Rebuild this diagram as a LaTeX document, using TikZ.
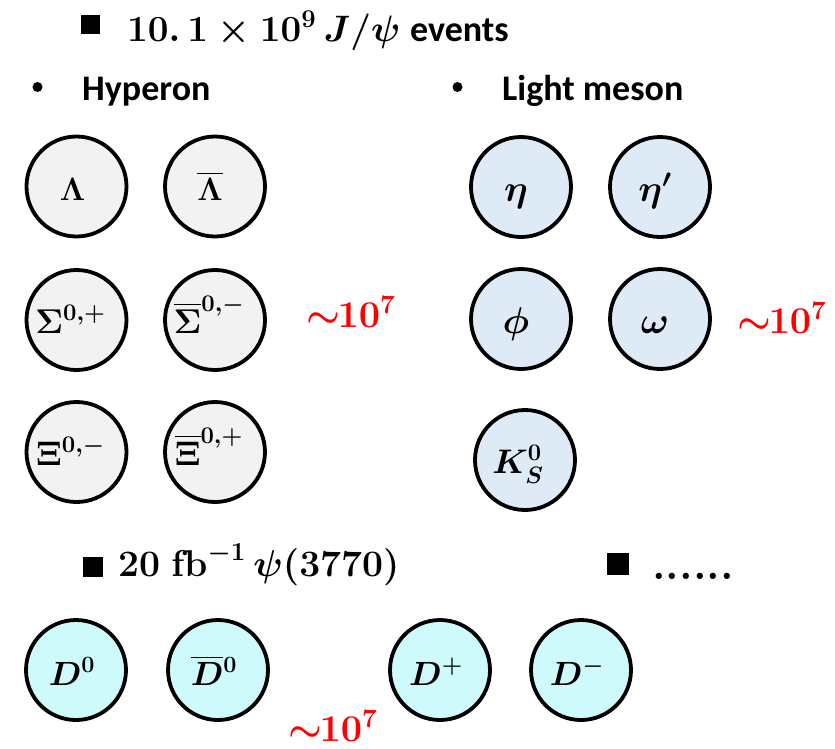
\documentclass[tikz,border=0pt]{standalone}
\usepackage{amsmath}
\usepackage{graphicx}
\usepackage{fontspec}
\newfontfamily\carlito{Carlito}
\DeclareMathSizes{24.88}{24.88}{17.42}{12.44}
\definecolor{hypfill}{HTML}{F2F2F2}
\definecolor{mesfill}{HTML}{DEEBF7}
\definecolor{dfill}{HTML}{CFFAFC}
\definecolor{numred}{HTML}{FF0000}
\newcommand{\mlab}[2]{\scalebox{#1}{$#2$}}
\begin{document}
\begin{tikzpicture}[x=1pt,y=-1pt,
  ball/.style={circle,draw=black,line width=3.8pt,minimum size=100pt,inner sep=0pt},
  hyp/.style={ball,fill=hypfill},
  mes/.style={ball,fill=mesfill},
  dm/.style={ball,fill=dfill},
  lab/.style={anchor=base,inner sep=0pt,font=\fontsize{24.88}{28}\selectfont\boldmath},
  rednum/.style={anchor=base west,inner sep=0pt,text=numred,font=\fontsize{24.88}{28}\selectfont\boldmath},
  sq/.style={fill=black,inner sep=0pt,minimum width=19pt,minimum height=19pt},
  bul/.style={circle,fill=black,inner sep=0pt,minimum size=10pt},
  head/.style={anchor=base west,inner sep=0pt,font=\fontsize{36}{40}\selectfont\carlito\bfseries},
  mhead/.style={anchor=base west,inner sep=0pt,font=\fontsize{24.88}{28}\selectfont\boldmath},
]
\useasboundingbox (0,0) rectangle (835,748);

% headers
\node[sq] (sq1) at (90.5,24.5) {};
\node[mhead] (h1) at (127,41) {\mlab{1.48}{10.\,1\times10^{9}\,J/\psi}};
\node[head] (h1b) at (410,41) {events};
\node[bul] (b1) at (37.5,87) {};
\node[head] (hyp) at (82,100) {Hyperon};
\node[bul] (b2) at (457.5,87) {};
\node[head] (lm) at (502,100) {Light meson};

% hyperons
\node[hyp] (Lam) at (76.5,186.5) {};
\node[hyp] (Lamb) at (215,186.5) {};
\node[hyp] (Sig) at (76.5,320) {};
\node[hyp] (Sigb) at (215,320) {};
\node[hyp] (Xi) at (76.5,452) {};
\node[hyp] (Xib) at (215,452) {};
\node[lab] (tLam) at ([xshift=-4pt,yshift=-13.5pt]Lam.center) {\mlab{1.3}{\Lambda}};
\node[lab] (tLamb) at ([xshift=-5pt,yshift=-13.5pt]Lamb.center) {\mlab{1.3}{\overline{\Lambda}}};
\node[lab] (tSig) at ([xshift=-6pt,yshift=-13pt]Sig.center) {\mlab{1.38}{\Sigma^{0,+}}};
\node[lab] (tSigb) at ([xshift=-6pt,yshift=-13pt]Sigb.center) {\mlab{1.38}{\overline{\Sigma}^{0,-}}};
\node[lab] (tXi) at ([xshift=-6pt,yshift=-13pt]Xi.center) {\mlab{1.38}{\Xi^{0,-}}};
\node[lab] (tXib) at ([xshift=-6pt,yshift=-13pt]Xib.center) {\mlab{1.38}{\overline{\Xi}^{0,+}}};
\node[rednum] (n1) at (306,327) {\mlab{1.52}{{\sim}\mkern-1mu10^{7}}};

% light mesons
\node[mes] (eta) at (521,187) {};
\node[mes] (etap) at (660,187) {};
\node[mes] (phi) at (521,319) {};
\node[mes] (omg) at (660,319) {};
\node[mes] (ks) at (525,460) {};
\node[lab] (teta) at ([xshift=-5pt,yshift=-14pt]eta.center) {\mlab{1.5}{\eta}};
\node[lab] (tetap) at ([xshift=-5pt,yshift=-14pt]etap.center) {\mlab{1.5}{\eta'}};
\node[lab] (tphi) at ([xshift=-5pt,yshift=-14pt]phi.center) {\mlab{1.5}{\phi}};
\node[lab] (tomg) at ([xshift=-5pt,yshift=-14pt]omg.center) {\mlab{1.5}{\omega}};
\node[lab] (tks) at ([xshift=-7pt,yshift=-13pt]ks.center) {\mlab{1.37}{K^{0}_{S}}};
\node[rednum] (n2) at (737,333) {\mlab{1.52}{{\sim}\mkern-1mu10^{7}}};

% psi(3770)
\node[sq,minimum width=20pt,minimum height=20pt] (sq2) at (93,567) {};
\node[mhead] (h2) at (118,576) {\mlab{1.5}{\mathbf{20\ fb}^{-1}\,\psi(3770)}};
\node[sq,minimum width=22pt,minimum height=22pt] (sq3) at (618,564) {};
\node[anchor=base west,inner sep=0pt,font=\fontsize{24.88}{28}\selectfont\bfseries] (dots) at (652,579) {\scalebox{1.75}{......}};

\node[dm] (D0) at (76,670) {};
\node[dm] (D0b) at (218,670) {};
\node[dm] (Dp) at (440,670) {};
\node[dm] (Dm) at (581,670) {};
\node[lab] (tD0) at ([xshift=-4pt,yshift=-15pt]D0.center) {\mlab{1.35}{D^{0}}};
\node[lab] (tD0b) at ([xshift=-4pt,yshift=-15pt]D0b.center) {\mlab{1.35}{\overline{D}{}^{0}}};
\node[lab] (tDp) at ([xshift=-4pt,yshift=-15pt]Dp.center) {\mlab{1.35}{D^{+}}};
\node[lab] (tDm) at ([xshift=-4pt,yshift=-15pt]Dm.center) {\mlab{1.35}{D^{-}}};
\node[rednum] (n3) at (288,741) {\mlab{1.52}{{\sim}\mkern-1mu10^{7}}};
\end{tikzpicture}
\end{document}
